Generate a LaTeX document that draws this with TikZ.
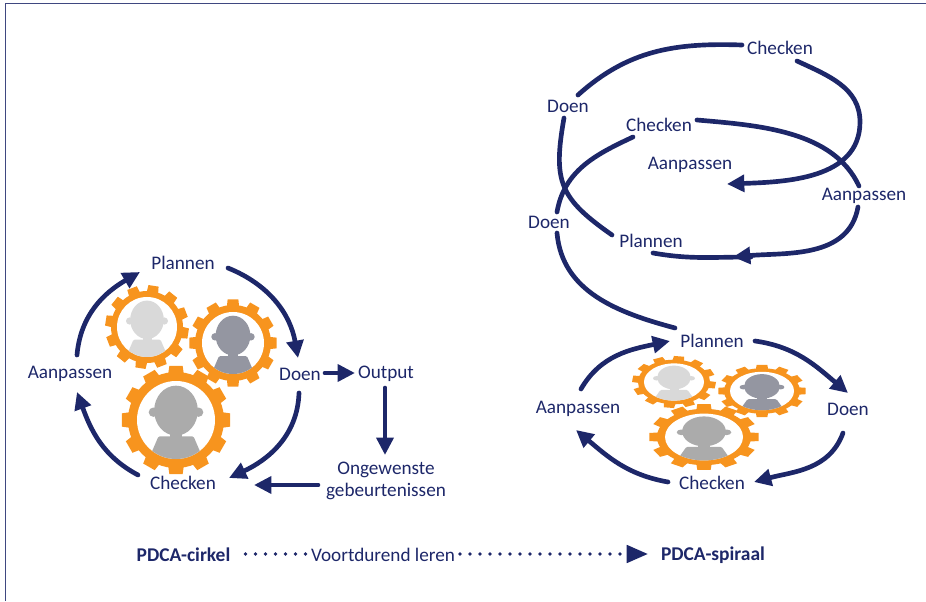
\documentclass[tikz,border=0pt]{standalone}
\usepackage{fontspec}
\setmainfont{Carlito}
\usepackage{tikz}
\usetikzlibrary{arrows.meta}
\definecolor{pdcanavy}{HTML}{1D2769}
\definecolor{pdcaorange}{HTML}{F7941E}
\definecolor{personlight}{HTML}{D9D9D9}
\definecolor{persondark}{HTML}{9496A1}
\definecolor{personmid}{HTML}{ABABAB}
\tikzset{
    lbl/.style={text=pdcanavy,font=\fontsize{14.4}{16.5}\selectfont,inner sep=0pt,align=center},
    lblbold/.style={lbl,font=\fontsize{14.6}{16.5}\selectfont\bfseries},
    flowline/.style={draw=pdcanavy,line width=3.5pt,line cap=round},
    flow/.style={flowline,-{Triangle[length=13pt,width=12.5pt]}},
    dotline/.style={draw=pdcanavy,line width=2.9pt,line cap=round,dash pattern=on 0pt off 7.5pt}
}
% center, yscale, rotation, tip radius, root radius, inner radius, person colour
\newcommand{\gearperson}[7]{
\begin{scope}[shift={#1},yscale=#2]
\fill[pdcaorange] (0,0) circle (#5);
\foreach \a in {0,30,...,330}
{
    \fill[pdcaorange] (\a+#3-9.5:#5-1) -- (\a+#3-7:#4) -- (\a+#3+7:#4) -- (\a+#3+9.5:#5-1) -- cycle;
}
\fill[white] (0,0) circle (#6);
\clip (0,0) circle (#6);
\begin{scope}[scale=#6,fill=#7]
\fill (0,0.24) ellipse (0.56 and 0.64);
\fill (-0.58,0.2) circle (0.12);
\fill (0.58,0.2) circle (0.12);
\fill (-0.15,-0.6) rectangle (0.15,-0.2);
\fill[rounded corners=1pt] (-0.45,-0.42) -- (0.45,-0.42) -- (0.72,-1.05) -- (-0.72,-1.05) -- cycle;
\end{scope}
\end{scope}
}
\begin{document}
\begin{tikzpicture}[x=0.75pt,y=0.75pt]
\useasboundingbox (0,0) rectangle (926,601);
\draw[pdcanavy!85,line width=0.8pt] (5.5,0) -- (5.5,597.3) -- (926,597.3);

% Gears of the circle
\gearperson{(147,274)}{1}{-9}{42}{36}{30}{personlight}
\gearperson{(233,258)}{1}{0}{44}{38}{31}{persondark}
\gearperson{(176,181)}{1}{0}{54.5}{48}{39}{personmid}

% Gears of the spiral
\gearperson{(674,219)}{0.62}{-7}{42}{36}{30}{personlight}
\gearperson{(762,210)}{0.6}{0}{44}{38}{32}{persondark}
\gearperson{(704,164)}{0.6}{0}{55}{47}{39}{personmid}

% PDCA circle
\node[lbl] (plan1) at (183,338) {Plannen};
\node[lbl] (doen1) at (300,227) {Doen};
\node[lbl] (check1) at (183,118) {Checken};
\node[lbl] (aanp1) at (70,227) {Aanpassen};
\node[lbl] (output) at (386,227) {Output};
\node[lbl] (ongew) at (386,120) {Ongewenste\\gebeurtenissen};

\draw[flow] ([shift={(45,-5)}]plan1.center) to[out=-22,in=100] ([shift={(-2,16)}]doen1.center);
\draw[flow] ([shift={(-1,-19)}]doen1.center) to[out=-92,in=25] ([shift={(46,5)}]check1.center);
\draw[flow] ([shift={(-45,8)}]check1.center) to[out=152,in=-70] ([shift={(7,-18)}]aanp1.center);
\draw[flow] ([shift={(7,19)}]aanp1.center) to[out=85,in=210] ([shift={(-43,-9)}]plan1.center);
\draw[flow] ([shift={(25,1)}]doen1.center) -- ([shift={(-31,1)}]output.center);
\draw[flow] ([shift={(-1,-14)}]output.center) -- ([shift={(-1,26)}]ongew.center);
\draw[flow] ([shift={(-68,-4)}]ongew.center) -- ([shift={(71,-2)}]check1.center);

% PDCA spiral, lower turn
\node[lbl] (plan2) at (712,260) {Plannen};
\node[lbl] (doen2) at (848,192) {Doen};
\node[lbl] (check2) at (712,118) {Checken};
\node[lbl] (aanp2) at (578,192) {Aanpassen};

\draw[flow] ([shift={(3,20)}]aanp2.center) to[out=60,in=192] ([shift={(-42,0)}]plan2.center);
\draw[flow] ([shift={(43,0)}]plan2.center) to[out=-8,in=140] ([shift={(0,16)}]doen2.center);
\draw[flow] ([shift={(-5,-24)}]doen2.center) to[out=-110,in=15] ([shift={(42,1)}]check2.center);
\draw[flow] ([shift={(-44,1)}]check2.center) to[out=170,in=-40] ([shift={(-2,-21)}]aanp2.center);

% PDCA spiral, upper turns
\node[lbl] (check3) at (780,553) {Checken};
\node[lbl] (doen3) at (568,495) {Doen};
\node[lbl] (check4) at (659,476) {Checken};
\node[lbl] (aanp3) at (690,436) {Aanpassen};
\node[lbl] (aanp4) at (864,405) {Aanpassen};
\node[lbl] (doen4) at (549,379) {Doen};
\node[lbl] (plan3) at (651,360) {Plannen};
\coordinate (spiralturn) at (860,479);

\draw[flowline] ([shift={(8,-11)}]doen4.center) to[out=-85,in=165] ([shift={(-37,13)}]plan2.center);
\draw[flowline] ([shift={(8,10)}]doen4.center) to[out=80,in=205] ([shift={(-26,-12)}]check4.center);
\draw[flowline] ([shift={(38,5)}]check4.center) to[out=-5,in=115,looseness=0.9] ([shift={(-5,10)}]aanp4.center);
\draw[flowline] ([shift={(2,-12)}]plan3.center) to[out=-10,in=180] ([shift={(100,-16)}]plan3.center);
\draw[flow] ([shift={(-6,-11)}]aanp4.center) to[out=-100,in=5] ([shift={(82,-16)}]plan3.center);
\draw[flowline] ([shift={(-39,6)}]plan3.center) to[out=145,in=-100,looseness=1.3] ([shift={(-4,-12)}]doen3.center);
\draw[flowline] ([shift={(10,11)}]doen3.center) to[out=42,in=178] ([shift={(-38,3)}]check3.center);
\draw[flow] ([shift={(17,-13)}]check3.center) to[out=-25,in=90] (spiralturn) to[out=-90,in=2] ([shift={(37,-19)}]aanp3.center);

% From circle to spiral
\node[lblbold] (cirkel) at (183.5,46) {PDCA-cirkel};
\node[lbl] (leren) at (383,46) {Voortdurend leren};
\node[lblbold] (spiraal) at (713,46) {PDCA-spiraal};

\draw[dotline] ([shift={(62,1)}]cirkel.center) -- ([shift={(-76,1)}]leren.center);
\draw[dotline,-{Triangle[length=16pt,width=13pt]}] ([shift={(77,1)}]leren.center) -- ([shift={(-65,1)}]spiraal.center);
\end{tikzpicture}
\end{document}
